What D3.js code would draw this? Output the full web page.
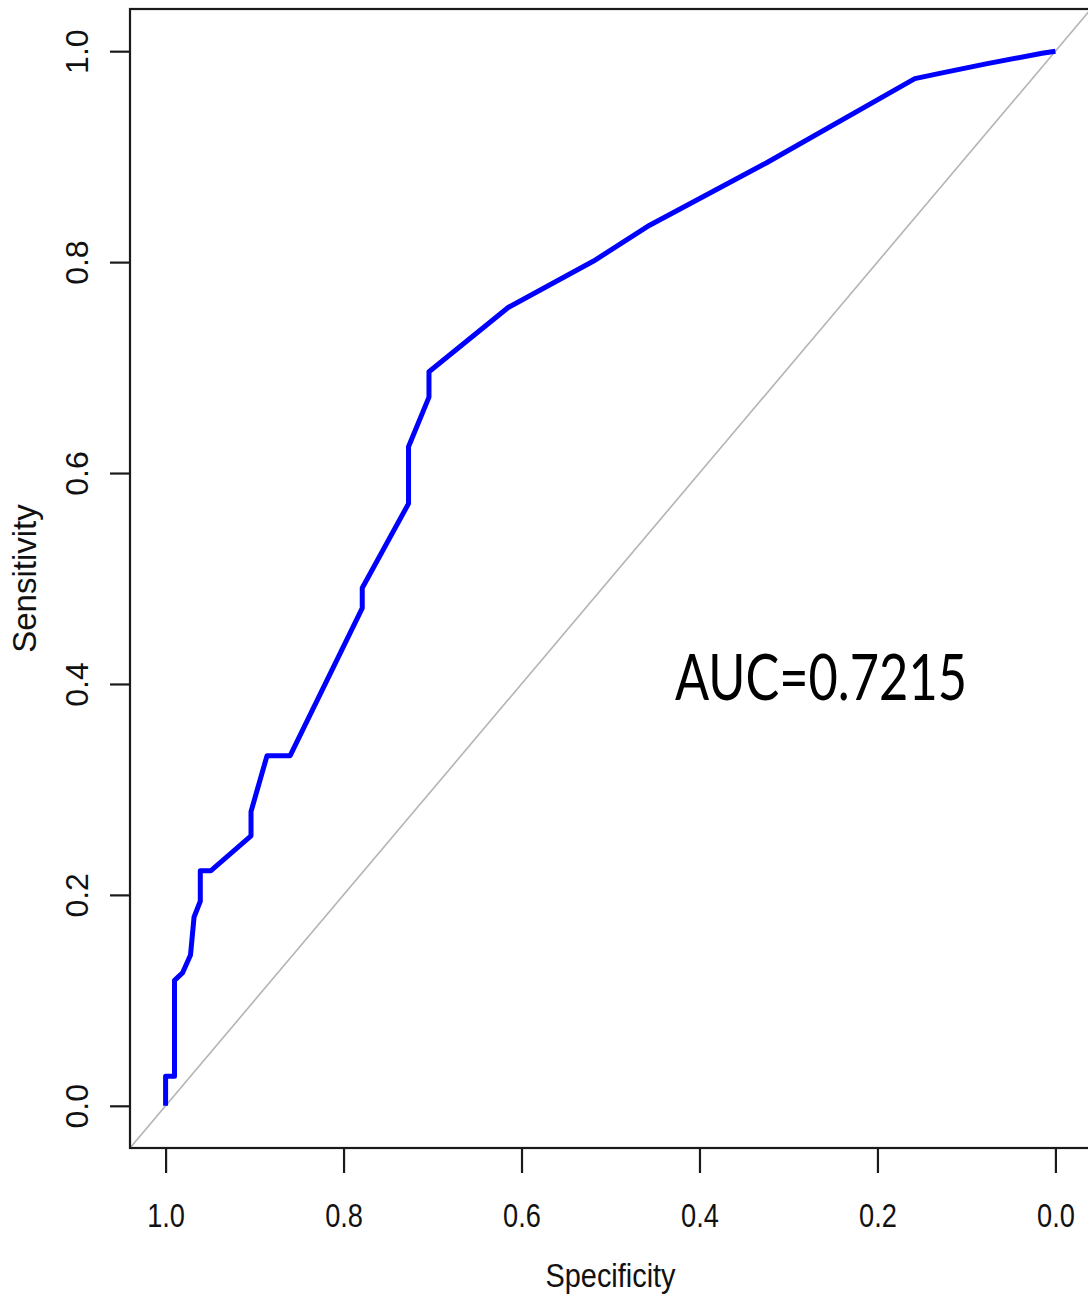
<!DOCTYPE html>
<html>
<head>
<meta charset="utf-8">
<script src="https://cdn.jsdelivr.net/npm/d3@7"></script>
<style>
  html, body { margin: 0; padding: 0; background: #fff; }
  svg { display: block; }
</style>
</head>
<body>
<svg id="chart" width="1088" height="1302"></svg>
<script>
// ROC curve points (specificity, sensitivity)
const specificity = [1.000, 1.000, 0.990, 0.990, 0.981, 0.972, 0.968, 0.961, 0.961, 0.949, 0.904, 0.904, 0.886, 0.860, 0.779, 0.779, 0.727, 0.727, 0.704, 0.704, 0.615, 0.519, 0.456, 0.325, 0.158, 0.130, 0.078, 0.015, 0.000];
const sensitivity = [0.000, 0.028, 0.028, 0.119, 0.126, 0.143, 0.179, 0.194, 0.223, 0.223, 0.256, 0.279, 0.332, 0.332, 0.472, 0.491, 0.571, 0.625, 0.672, 0.696, 0.757, 0.801, 0.835, 0.894, 0.974, 0.979, 0.988, 0.998, 1.000];
const xTicks = [1.0, 0.8, 0.6, 0.4, 0.2, 0.0];
const yTicks = [0.0, 0.2, 0.4, 0.6, 0.8, 1.0];
const xTitle = "Specificity";
const yTitle = "Sensitivity";
const aucLabel = "AUC=0.7215";

const svg = d3.select("#chart");
const x = d3.scaleLinear().domain([1.04, -0.04]).range([130, 1091]);
const y = d3.scaleLinear().domain([-0.04, 1.04]).range([1148, 9]);

const axisColor = "#1a1a1a";

// clip
svg.append("defs").append("clipPath").attr("id", "plotclip")
  .append("rect").attr("x", x(1.04)).attr("y", y(1.04))
  .attr("width", x(-0.04) - x(1.04)).attr("height", y(-0.04) - y(1.04));

// diagonal reference
svg.append("line")
  .attr("clip-path", "url(#plotclip)")
  .attr("x1", x(1.04)).attr("y1", y(1 - 1.04))
  .attr("x2", x(-0.04)).attr("y2", y(1 + 0.04))
  .attr("stroke", "#b4b4b4").attr("stroke-width", 1.6);

// ROC curve
const pts = specificity.map((s, i) => [s, sensitivity[i]]);
svg.append("path")
  .datum(pts)
  .attr("clip-path", "url(#plotclip)")
  .attr("fill", "none")
  .attr("stroke", "#0000ff")
  .attr("stroke-width", 5)
  .attr("stroke-linejoin", "round")
  .attr("d", d3.line().x(d => x(d[0])).y(d => y(d[1])));

// box (left, top, bottom; right is beyond the canvas)
svg.append("rect")
  .attr("x", x(1.04)).attr("y", y(1.04))
  .attr("width", x(-0.04) - x(1.04)).attr("height", y(-0.04) - y(1.04))
  .attr("fill", "none").attr("stroke", axisColor).attr("stroke-width", 2.2);

// x axis
const xAxis = d3.axisBottom(x).tickValues(xTicks).tickSize(25).tickFormat(d3.format(".1f"));
const gx = svg.append("g").attr("transform", `translate(0,${y(-0.04)})`).call(xAxis);
gx.select(".domain").remove();
gx.selectAll(".tick line").attr("stroke", axisColor).attr("stroke-width", 2.2);
gx.selectAll(".tick text")
  .attr("fill", "#111")
  .attr("font-family", "'Liberation Sans', Arial, sans-serif")
  .attr("font-size", 34)
  .attr("dy", null)
  .attr("y", 0)
  .attr("transform", "translate(0,78.5) scale(0.8,1)");

// y axis
const yAxis = d3.axisLeft(y).tickValues(yTicks).tickSize(20).tickFormat(d3.format(".1f"));
const gy = svg.append("g").attr("transform", `translate(${x(1.04)},0)`).call(yAxis);
gy.select(".domain").remove();
gy.selectAll(".tick line").attr("stroke", axisColor).attr("stroke-width", 2.2);
gy.selectAll(".tick text")
  .attr("fill", "#111")
  .attr("font-family", "'Liberation Sans', Arial, sans-serif")
  .attr("font-size", 32)
  .attr("x", 0).attr("dy", null)
  .attr("text-anchor", "middle")
  .attr("transform", "translate(-42,0) rotate(-90)");

// titles
svg.append("text")
  .attr("transform", `translate(${(x(1.04) + x(-0.04)) / 2},1287) scale(0.85,1)`)
  .attr("text-anchor", "middle")
  .attr("font-family", "'Liberation Sans', Arial, sans-serif")
  .attr("font-size", 34)
  .attr("fill", "#111")
  .text(xTitle);

svg.append("text")
  .attr("transform", `translate(36,${(y(1.04) + y(-0.04)) / 2}) rotate(-90)`)
  .attr("text-anchor", "middle")
  .attr("font-family", "'Liberation Sans', Arial, sans-serif")
  .attr("font-size", 33)
  .attr("fill", "#111")
  .text(yTitle);

// AUC annotation
svg.append("text")
  .attr("x", 675).attr("y", 700)
  .attr("font-family", "Lato, 'Open Sans', sans-serif")
  .attr("font-size", 63)
  .attr("textLength", 292)
  .attr("lengthAdjust", "spacingAndGlyphs")
  .attr("fill", "#000")
  .text(aucLabel);
</script>
</body>
</html>
